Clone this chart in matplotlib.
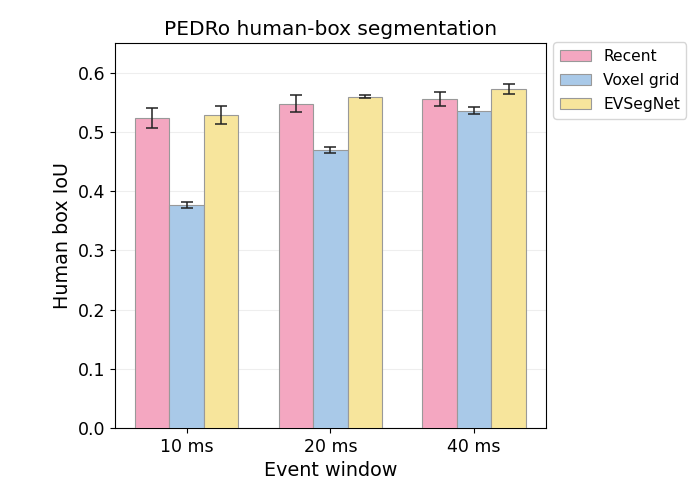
import numpy as np
import matplotlib.pyplot as plt

# Datos
ventanas = ["10 ms", "20 ms", "40 ms"]
metodos = ["Recent", "Voxel grid", "EVSegNet"]
recent = [0.524, 0.548, 0.556]
recent_err = [0.017, 0.015, 0.012]
voxel = [0.377, 0.469, 0.536]
voxel_err = [0.005, 0.005, 0.006]
evsegnet = [0.529, 0.560, 0.573]
evsegnet_err = [0.015, 0.003, 0.008]

colores = ["#F4A7C1", "#A9C9E8", "#F7E59C"]

fig = plt.figure(figsize=(6.92, 4.8), dpi=100)
ax = fig.add_axes([0.166, 0.108, 0.623, 0.802])

x = np.arange(len(ventanas))
ancho = 0.24
series = [(recent, recent_err), (voxel, voxel_err), (evsegnet, evsegnet_err)]
for i, (vals, errs) in enumerate(series):
    ax.bar(x + (i - 1) * ancho, vals, ancho, yerr=errs, capsize=4,
           color=colores[i], edgecolor="#999999", linewidth=0.8,
           label=metodos[i], zorder=3,
           error_kw=dict(ecolor="#222222", elinewidth=1.1, capthick=1.1))

ax.set_xlim(-0.5, 2.5)
ax.set_ylim(0, 0.65)
ax.set_yticks(np.arange(0, 0.61, 0.1))
ax.set_xticks(x)
ax.set_xticklabels(ventanas)
ax.tick_params(labelsize=12.5)
ax.yaxis.grid(True, color="#eeeeee", linewidth=0.8, zorder=0)
ax.set_axisbelow(True)
ax.set_title("PEDRo human-box segmentation", fontsize=14.5)
ax.set_xlabel("Event window", fontsize=13.8)
ax.set_ylabel("Human box IoU", fontsize=13.8)
ax.legend(loc="upper left", bbox_to_anchor=(1.01, 1.01), fontsize=11.2,
          labelspacing=0.6, frameon=True, borderaxespad=0.2)

plt.savefig("out.png", dpi=100)
